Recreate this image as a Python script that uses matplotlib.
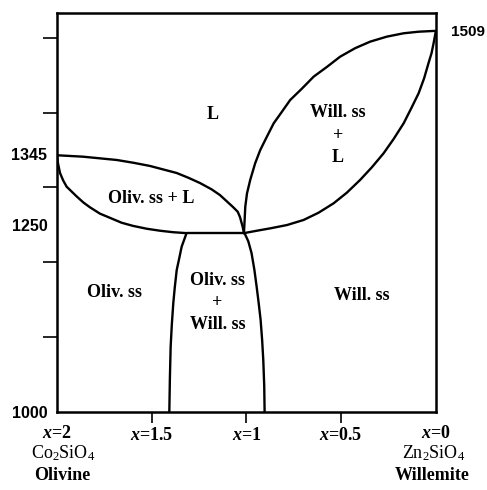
import matplotlib.pyplot as plt

plt.rcParams['mathtext.fontset'] = 'custom'
plt.rcParams['mathtext.rm'] = 'Liberation Serif'
plt.rcParams['mathtext.it'] = 'Liberation Serif:italic:bold'

# phase boundaries: composition x and temperature (C)
oliv_liq_x = [2.0, 1.863, 1.685, 1.597, 1.509, 1.368, 1.307, 1.245, 1.184,
              1.140, 1.071, 1.046, 1.034, 1.020, 1.013]
oliv_liq_t = [1343, 1341.1, 1336.7, 1333, 1328.7, 1319.3, 1313, 1305.9,
              1297.5, 1289.9, 1273.9, 1267.6, 1260.5, 1247.6, 1239]

oliv_sol_x = [2.0, 1.995, 1.984, 1.967, 1.949, 1.896, 1.861, 1.826, 1.773,
              1.720, 1.659, 1.599, 1.527, 1.456, 1.386, 1.316]
oliv_sol_t = [1343, 1332.7, 1319.3, 1309.2, 1301, 1288, 1280, 1273.5,
              1265, 1259.4, 1252.9, 1248.7, 1244.9, 1242.2, 1240.2, 1239]

will_liq_x = [1.013, 1.006, 0.997, 0.980, 0.954, 0.927, 0.892, 0.856, 0.813,
              0.769, 0.707, 0.645, 0.575, 0.505, 0.426, 0.347, 0.259, 0.170,
              0.091, 0.012, 0.0]
will_liq_t = [1239, 1274.3, 1292, 1310, 1332.2, 1350, 1367.8, 1385.7, 1401,
              1416.8, 1432, 1448, 1461, 1474.7, 1486, 1494.7, 1501.4, 1505.9,
              1508, 1509, 1509]

will_sol_x = [1.013, 0.945, 0.874, 0.786, 0.698, 0.619, 0.540, 0.470, 0.400,
              0.338, 0.276, 0.223, 0.170, 0.130, 0.091, 0.062, 0.039, 0.023,
              0.012, 0.0]
will_sol_t = [1239, 1242.2, 1245.4, 1249.8, 1256.6, 1266.3, 1278.8, 1293,
              1310, 1326.9, 1345.6, 1364.7, 1385.7, 1405.7, 1425.8, 1445.8,
              1465.9, 1479.2, 1492.6, 1509]

oliv_solvus_x = [1.316, 1.342, 1.355, 1.368, 1.378, 1.386, 1.394, 1.400,
                 1.404, 1.407]
oliv_solvus_t = [1239, 1220.8, 1205, 1189.7, 1167, 1145.6, 1116, 1087.2,
                 1045, 1000]

will_solvus_x = [1.01, 0.99, 0.973, 0.958, 0.946, 0.935, 0.925, 0.917,
                 0.911, 0.906, 0.904]
will_solvus_t = [1239, 1228, 1212.4, 1190, 1167.4, 1145, 1122.9, 1096,
                 1069.5, 1035, 1000]

eutectic_x = [1.316, 1.01]
eutectic_t = [1239, 1239]

x_ticks = [1.5, 1.0, 0.5]
x_tick_labels = ['$x$=1.5', '$x$=1', '$x$=0.5']
x_end_ticks = [2.0, 0.0]
x_end_labels = ['$x$=2', '$x$=0']
t_ticks = [1100, 1200, 1300, 1400, 1500]
t_labels_left = [1000, 1250, 1345]
t_label_right = [1509]

regions = [
    ('L', 1.18, 1397),
    ('Oliv. ss + L', 1.504, 1285),
    ('Will. ss\n+\nL', 0.516, 1370),
    ('Oliv. ss', 1.695, 1160),
    ('Oliv. ss\n+\nWill. ss', 1.153, 1146),
    ('Will. ss', 0.389, 1156),
]

fig = plt.figure(figsize=(4.87, 4.90), dpi=100)
ax = fig.add_axes([0.117, 0.159, 0.778, 0.8145])

lw = 1.7
for xs, ts in [(oliv_liq_x, oliv_liq_t), (oliv_sol_x, oliv_sol_t),
               (will_liq_x, will_liq_t), (will_sol_x, will_sol_t),
               (oliv_solvus_x, oliv_solvus_t), (will_solvus_x, will_solvus_t),
               (eutectic_x, eutectic_t)]:
    ax.plot(xs, ts, color='black', lw=lw, solid_capstyle='round',
            solid_joinstyle='round')

ax.set_xlim(2, 0)
ax.set_ylim(1000, 1533)
for s in ax.spines.values():
    s.set_linewidth(1.8)

serif = 'Liberation Serif'
for label, x, t in regions:
    ax.text(x, t, label, ha='center', va='center', family=serif,
            weight='bold', fontsize=13, linespacing=1.4)

# x axis
ax.set_xticks(x_ticks, x_tick_labels)
ax.set_xticks(x_end_ticks, x_end_labels, minor=True)
ax.tick_params(axis='x', which='both', direction='out', length=8,
               width=1.2, pad=3, labelsize=13)
ax.tick_params(axis='x', which='minor', length=0, pad=9)
for lab in ax.get_xticklabels(which='both'):
    lab.set_family(serif)
    lab.set_weight('bold')

# y axis
ax.set_yticks(t_ticks, [''] * len(t_ticks))
ax.set_yticks(t_labels_left, [str(t) for t in t_labels_left], minor=True)
ax.tick_params(axis='y', which='major', direction='out', length=10,
               width=1.2, left=True, right=True)
ax.tick_params(axis='y', which='minor', length=0, pad=7, labelsize=11.5,
               right=False)
for lab in ax.get_yticklabels(which='minor'):
    lab.set_family('Liberation Sans')
    lab.set_weight('bold')

ax2 = ax.twinx()
ax2.set_ylim(ax.get_ylim())
ax2.set_yticks(t_label_right, [str(t) for t in t_label_right])
ax2.tick_params(axis='y', length=0, pad=11, labelsize=11)
for lab in ax2.get_yticklabels():
    lab.set_family('Liberation Sans')
    lab.set_weight('bold')
for s in ax2.spines.values():
    s.set_visible(False)

# end member names under the axis
xt = ax.get_xaxis_transform()
ax.text(1.97, -0.103, 'Co$_2$SiO$_4$', transform=xt, ha='center',
        va='center', family=serif, fontsize=13)
ax.text(1.97, -0.16, 'Olivine', transform=xt, ha='center',
        va='center', family=serif, weight='bold', fontsize=13)
ax.text(0.01, -0.103, 'Zn$_2$SiO$_4$', transform=xt, ha='center',
        va='center', family=serif, fontsize=13)
ax.text(0.02, -0.16, 'Willemite', transform=xt, ha='center',
        va='center', family=serif, weight='bold', fontsize=13)

fig.savefig('out.png', dpi=100)
